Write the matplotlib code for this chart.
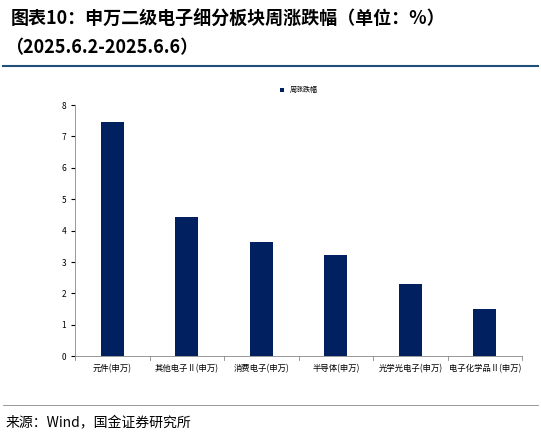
import matplotlib
matplotlib.use("Agg")
import matplotlib.pyplot as plt

categories = ["元件(申万)", "其他电子Ⅱ(申万)", "消费电子(申万)", "半导体(申万)", "光学光电子(申万)", "电子化学品Ⅱ(申万)"]
values = [7.45, 4.43, 3.63, 3.22, 2.29, 1.50]
yticks = [0, 1, 2, 3, 4, 5, 6, 7, 8]

plt.rcParams['font.family'] = ['Noto Sans CJK SC', 'DejaVu Sans']
fig = plt.figure(figsize=(5.41, 4.36), dpi=100)
fig.text(0.02, 0.955, "图表10：申万二级电子细分板块周涨跌幅（单位：%）", fontsize=13, fontweight='bold', style='italic', va='center')
fig.text(0.01, 0.89, "（2025.6.2-2025.6.6）", fontsize=13, fontweight='bold', style='italic', va='center')
fig.add_artist(plt.Line2D([0.005, 0.995], [0.848, 0.848], color='#1f4e79', lw=1.5))
fig.text(0.01, 0.03, "来源：Wind，国金证券研究所", fontsize=10, va='center')
fig.add_artist(plt.Line2D([0.005, 0.995], [0.07, 0.07], color='#888888', lw=0.6))

ax = fig.add_axes([0.139, 0.183, 0.826, 0.576])
x = range(len(categories))
ax.bar(x, values, width=0.31, color='#002060', label='周涨跌幅')
ax.set_ylim(0, 8)
ax.set_yticks(yticks)
ax.set_xlim(-0.5, len(categories) - 0.5)
ax.set_xticks(x)
ax.set_xticklabels(categories, fontsize=6)
ax.tick_params(axis='y', labelsize=6, length=3)
ax.tick_params(axis='x', length=0, pad=6)
for xb in [i + 0.5 for i in range(-1, len(categories))]:
    ax.plot([xb, xb], [0, -0.12], color='#888888', lw=0.6, clip_on=False)
for s in ['top', 'right']:
    ax.spines[s].set_visible(False)
for s in ['left', 'bottom']:
    ax.spines[s].set_color('#888888')
    ax.spines[s].set_linewidth(0.6)
ax.legend(loc='upper center', bbox_to_anchor=(0.5, 1.1), frameon=False, fontsize=5, handlelength=0.6, handleheight=0.6)
fig.savefig("out.png", dpi=100)
